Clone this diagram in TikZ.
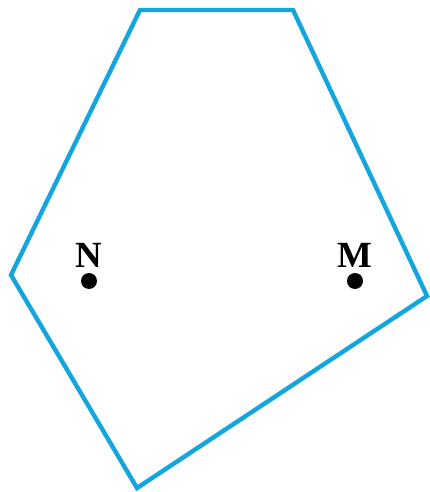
\documentclass[tikz,border=0pt]{standalone}
\usepackage{fontspec}
\usepackage{tikz}
\usetikzlibrary{positioning,calc}
\newfontfamily\labelfont{Liberation Serif}
\definecolor{edgeblue}{RGB}{18,165,222}

\begin{document}
\begin{tikzpicture}[
    x=0.02cm, y=-0.02cm,
    side/.style={draw=edgeblue, line width=2.5pt, line join=miter},
    pt/.style={circle, fill=black, inner sep=0pt, minimum size=0.32cm},
    lbl/.style={font=\labelfont\fontsize{21}{24}\selectfont\bfseries, inner sep=0pt}
]
\useasboundingbox (0,0) rectangle (429,492);

% Ecken des Fuenfecks
\coordinate (A) at (140,10);
\coordinate (B) at (293,10);
\coordinate (C) at (427,296);
\coordinate (D) at (137,488);
\coordinate (E) at (11,275);

\draw[side] (A) -- (B) -- (C) -- (D) -- (E) -- cycle;

% Punkte N und M
\node[pt] (N) at (89,281) {};
\node[pt] (M) at (355,281) {};
\node[lbl, above=0.1cm of N] (labN) {N};
\node[lbl, above=0.1cm of M] (labM) {M};

\end{tikzpicture}
\end{document}
